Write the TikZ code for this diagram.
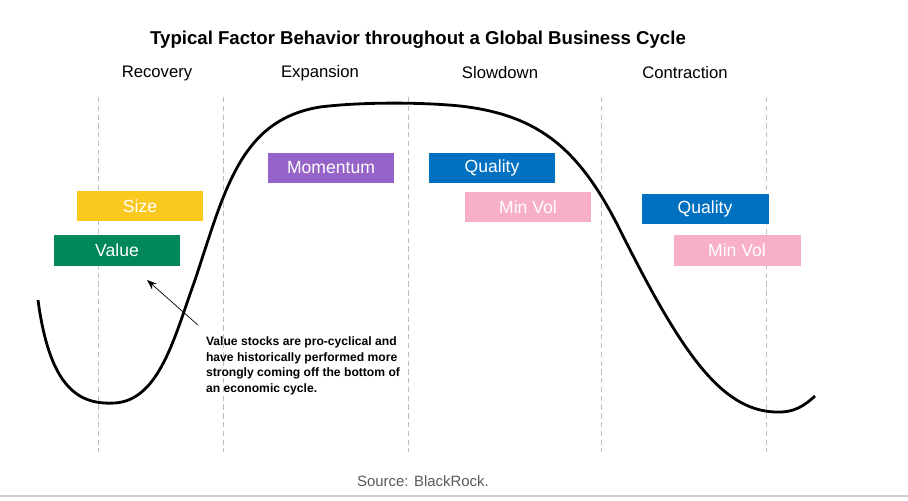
\documentclass[tikz,border=0pt]{standalone}
\usepackage{fontspec}
\setmainfont{Liberation Sans}
\usetikzlibrary{arrows.meta}
\definecolor{sizeyellow}{RGB}{250,200,30}
\definecolor{valuegreen}{RGB}{0,135,90}
\definecolor{mompurple}{RGB}{150,100,200}
\definecolor{qualblue}{RGB}{0,112,192}
\definecolor{minpink}{RGB}{248,175,200}
\begin{document}
\begin{tikzpicture}[x=0.02cm,y=-0.02cm]
    \tikzset{factor/.style = {fill=#1, text=white, minimum width=2.54cm, minimum height=0.62cm, inner sep=0pt, font=\fontsize{10}{12}\selectfont}}
    \tikzset{phase/.style = {font=\fontsize{9.5}{12}\selectfont}}
    \tikzset{divider/.style = {densely dashed, gray!50, thin}}

    \useasboundingbox (0,0) rectangle (908,500);

    % title and phases
    \node[font=\bfseries\fontsize{10.6}{13}\selectfont] (title) at (418,40) {Typical Factor Behavior throughout a Global Business Cycle};
    \node[phase] (recovery) at (157,73) {Recovery};
    \node[phase] (expansion) at (320,73) {Expansion};
    \node[phase] (slowdown) at (500,73) {Slowdown};
    \node[phase] (contraction) at (685,73) {Contraction};

    % dividers
    \foreach \x in {98,223,408,601,766}
        \draw[divider] (\x,97) -- (\x,452);

    % business cycle
    \draw[line width=1.6pt] (38,300) .. controls (50,390) and (80,405) .. (115,403)
        .. controls (160,400) and (175,335) .. (195,280)
        .. controls (225,190) and (240,120) .. (320,107)
        .. controls (360,102) and (420,102) .. (460,106)
        .. controls (540,115) and (580,150) .. (620,230)
        .. controls (680,350) and (720,410) .. (775,412)
        .. controls (795,413) and (805,405) .. (815,396);

    % factor boxes
    \node[factor=sizeyellow] (size) at (140,206) {Size};
    \node[factor=valuegreen] (value) at (117,250) {Value};
    \node[factor=mompurple] (momentum) at (331,168) {Momentum};
    \node[factor=qualblue] (quality1) at (492,168) {Quality};
    \node[factor=minpink] (minvol1) at (528,207) {Min Vol};
    \node[factor=qualblue] (quality2) at (705,209) {Quality};
    \node[factor=minpink] (minvol2) at (737,250) {Min Vol};

    % annotation
    \node[font=\bfseries\fontsize{6.9}{8.8}\selectfont, align=left] (note) at (303,366)
        {Value stocks are pro-cyclical and\\have historically performed more\\strongly coming off the bottom of\\an economic cycle.};
    \coordinate (tip) at (147,280);
    \draw[-{Stealth[length=2mm]}] (note.north west) ++(-2,-6) coordinate (tail) (tail) -- (tip);

    % source
    \node[gray!70!black, font=\fontsize{8.5}{10}\selectfont] (source) at (423,481) {Source: BlackRock.};
    \draw[gray!40, line width=1.2pt] (0,496) -- (908,496);
\end{tikzpicture}
\end{document}
